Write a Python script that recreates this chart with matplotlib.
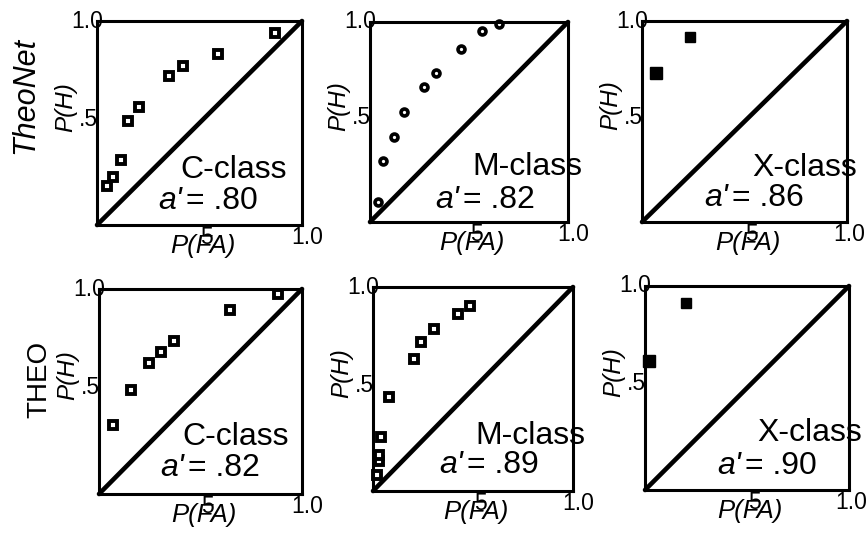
import matplotlib.pyplot as plt

plt.rcParams['font.family'] = ['Liberation Sans', 'DejaVu Sans']

# ROC points: P(FA) and P(H)
theonet_c_fa = [0.05, 0.08, 0.115, 0.15, 0.205, 0.35, 0.42, 0.59, 0.87]
theonet_c_h = [0.19, 0.235, 0.32, 0.51, 0.58, 0.73, 0.78, 0.84, 0.94]
theonet_m_fa = [0.042, 0.064, 0.123, 0.173, 0.273, 0.332, 0.458, 0.564, 0.65]
theonet_m_h = [0.10, 0.305, 0.427, 0.548, 0.677, 0.743, 0.865, 0.955, 0.99]
theonet_x_fa = [0.068, 0.234]
theonet_x_h = [0.742, 0.92]

theo_c_fa = [0.07, 0.16, 0.246, 0.305, 0.37, 0.645, 0.883]
theo_c_h = [0.337, 0.507, 0.637, 0.695, 0.745, 0.90, 0.975]
theo_m_fa = [0.022, 0.032, 0.032, 0.038, 0.078, 0.205, 0.238, 0.305, 0.423, 0.485]
theo_m_h = [0.08, 0.147, 0.176, 0.266, 0.462, 0.645, 0.729, 0.794, 0.866, 0.907]
theo_x_fa = [0.021, 0.201]
theo_x_h = [0.632, 0.915]

class_names = ['C-class', 'M-class', 'X-class']
theonet_a = ['.80', '.82', '.86']
theo_a = ['.82', '.89', '.90']
row_names = ['TheoNet', 'THEO']

W, H = 868, 536
fig = plt.figure(figsize=(W / 100, H / 100), dpi=100)

# panel boxes in pixels: left, right, top, bottom
boxes = [(97, 302, 21, 225), (370, 568, 22, 222), (642, 847, 21, 222),
         (99, 302, 289, 494), (373, 573, 287, 491), (645, 849, 286, 490)]

data = [(theonet_c_fa, theonet_c_h), (theonet_m_fa, theonet_m_h), (theonet_x_fa, theonet_x_h),
        (theo_c_fa, theo_c_h), (theo_m_fa, theo_m_h), (theo_x_fa, theo_x_h)]

# where the labels sit inside each panel (axes fraction)
cls_pos = [(0.405, 0.27), (0.515, 0.275), (0.537, 0.27),
           (0.41, 0.28), (0.51, 0.27), (0.55, 0.277)]
a_pos = [(0.434, 0.118), (0.47, 0.11), (0.44, 0.12),
         (0.44, 0.127), (0.47, 0.127), (0.49, 0.118)]
labels_a = theonet_a + theo_a

for i, (l, r, t, b) in enumerate(boxes):
    ax = fig.add_axes([l / W, 1 - b / H, (r - l) / W, (b - t) / H])
    ax.set_xlim(0, 1)
    ax.set_ylim(0, 1)
    ax.set_xticks([])
    ax.set_yticks([])
    for s in ax.spines.values():
        s.set_linewidth(2.2)
    ax.plot([0, 1], [0, 1], color='black', lw=3.3, solid_capstyle='round', clip_on=False)

    fa, hit = data[i]
    col = i % 3
    if col == 1 and i < 3:
        ax.plot(fa, hit, 'o', ms=5, mfc='white', mec='black', mew=2.6, clip_on=False)
    elif col < 2:
        ax.plot(fa, hit, 's', ms=5.5, mfc='white', mec='black', mew=2.8, clip_on=False)
    else:
        ax.plot(fa[:1], hit[:1], 's', ms=8, color='black', clip_on=False)
        ax.plot(fa[1:], hit[1:], 's', ms=6.5, color='black', clip_on=False)

    # tick-like labels
    ax.annotate('1.0', (0, 1), xycoords='axes fraction', xytext=(-10, 0),
                textcoords='offset pixels', ha='center', va='center', fontsize=16.5)
    ax.annotate('.5', (0, 0.5), xycoords='axes fraction', xytext=(1, 4),
                textcoords='offset pixels', ha='right', va='center', fontsize=16.5)
    ax.annotate('5', (0.5, 0), xycoords='axes fraction', xytext=(7, -1),
                textcoords='offset pixels', ha='center', va='top', fontsize=16.5)
    ax.annotate('1.0', (1, 0), xycoords='axes fraction', xytext=(5 if col < 2 else 2, -1),
                textcoords='offset pixels', ha='center', va='top', fontsize=16.5)

    ax.annotate('P(H)', (0, 0.58), xycoords='axes fraction', xytext=(-31, 0),
                textcoords='offset pixels', ha='center', va='center', rotation=90,
                fontsize=17.5, style='italic')
    ax.annotate('P(FA)', (0.5, 0), xycoords='axes fraction', xytext=(3, -21),
                textcoords='offset pixels', ha='center', va='center',
                fontsize=18.5, style='italic')

    cx, cy = cls_pos[i]
    ax.text(cx, cy, class_names[col], transform=ax.transAxes, ha='left', va='center',
            fontsize=23)
    ax_, ay_ = a_pos[i]
    ax.text(ax_ - 0.02, ay_, "a'", transform=ax.transAxes, ha='right', va='center',
            fontsize=23, style='italic')
    ax.text(ax_, ay_, '= ' + labels_a[i], transform=ax.transAxes, ha='left', va='center',
            fontsize=23)

fig.text(25 / W, 1 - 95 / H, row_names[0], rotation=90, ha='center', va='center',
         fontsize=22, style='italic')
fig.text(39 / W, 1 - 379 / H, row_names[1], rotation=90, ha='center', va='center',
         fontsize=20)

fig.savefig('out.png', dpi=100)
